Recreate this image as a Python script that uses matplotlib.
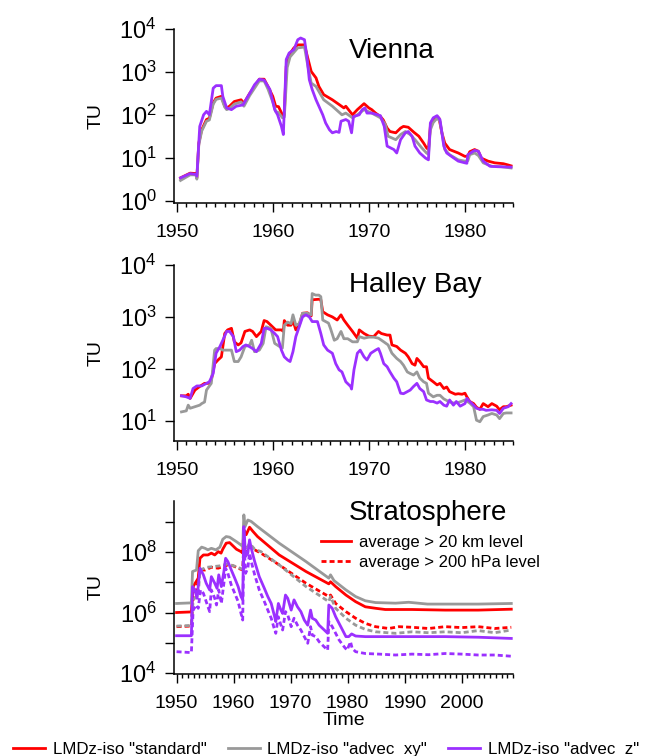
import matplotlib
matplotlib.use("Agg")
import matplotlib.pyplot as plt
from matplotlib.lines import Line2D
from matplotlib.ticker import FixedLocator, MultipleLocator
import numpy as np

plt.rcParams['font.family'] = ['Liberation Sans', 'DejaVu Sans']
plt.rcParams['mathtext.fontset'] = 'custom'
plt.rcParams['mathtext.rm'] = 'Liberation Sans'
plt.rcParams['mathtext.it'] = 'Liberation Sans:italic'

# (year, log10 TU)
vienna_std = [(1950.4,0.53),(1951.4,0.64),(1952.0,0.63),(1952.1,0.53),(1952.3,1.34),(1952.6,1.65),(1953.1,1.89),(1953.4,1.92),(1953.8,2.28),(1954.1,2.39),(1954.65,2.43),(1955.0,2.2),(1955.2,2.16),(1955.5,2.2),(1956.0,2.31),(1956.7,2.35),(1957.0,2.27),(1957.6,2.5),(1958.1,2.66),(1958.6,2.83),(1959.1,2.83),(1959.5,2.66),(1960.0,2.43),(1960.3,2.2),(1960.6,2.19),(1961.0,2.0),(1961.2,2.0),(1961.4,3.13),(1961.7,3.4),(1962.2,3.56),(1962.6,3.63),(1963.3,3.63),(1963.6,3.36),(1964.0,3.01),(1964.5,2.86),(1964.8,2.66),(1965.3,2.47),(1966.2,2.35),(1966.9,2.24),(1967.4,2.16),(1967.6,2.2),(1968.3,2.0),(1968.8,2.12),(1969.5,2.26),(1970.0,2.16),(1970.3,2.12),(1970.7,2.04),(1971.2,1.96),(1971.5,1.88),(1971.9,1.69),(1972.2,1.61),(1972.8,1.58),(1973.3,1.69),(1973.6,1.73),(1974.1,1.71),(1974.7,1.59),(1975.2,1.5),(1975.7,1.34),(1976.0,1.23),(1976.2,1.19),(1976.4,1.73),(1976.7,1.89),(1977.1,1.96),(1977.3,1.92),(1977.6,1.58),(1977.9,1.34),(1978.4,1.19),(1979.3,1.11),(1980.0,1.03),(1980.3,1.04),(1980.5,1.14),(1981.0,1.19),(1981.4,1.15),(1981.7,0.99),(1982.4,0.92),(1983.1,0.88),(1984.0,0.86),(1984.5,0.83),(1984.8,0.81)]
vienna_xy = [(1950.4,0.47),(1951.4,0.6),(1952.0,0.6),(1952.1,0.5),(1952.3,1.3),(1952.6,1.62),(1953.1,1.85),(1953.4,1.88),(1953.8,2.25),(1954.1,2.36),(1954.65,2.39),(1955.0,2.18),(1955.2,2.12),(1955.5,2.15),(1956.0,2.25),(1956.7,2.3),(1957.0,2.2),(1957.6,2.45),(1958.1,2.62),(1958.6,2.79),(1959.1,2.79),(1959.5,2.6),(1960.0,2.3),(1960.3,2.08),(1960.6,2.05),(1961.0,1.93),(1961.2,1.95),(1961.5,3.1),(1961.8,3.35),(1962.6,3.56),(1963.3,3.58),(1963.6,3.2),(1964.0,2.74),(1964.5,2.66),(1965.3,2.35),(1966.2,2.2),(1967.2,2.0),(1967.6,2.04),(1968.3,1.93),(1968.8,2.0),(1969.5,2.12),(1970.3,2.04),(1971.2,1.93),(1971.7,1.78),(1972.0,1.5),(1972.8,1.42),(1973.3,1.54),(1973.8,1.61),(1974.3,1.54),(1974.8,1.42),(1975.5,1.23),(1976.0,1.11),(1976.2,1.08),(1976.4,1.65),(1976.7,1.82),(1977.1,1.92),(1977.4,1.85),(1977.9,1.19),(1978.4,1.07),(1979.3,0.95),(1980.0,0.92),(1980.3,0.93),(1980.5,1.07),(1981.0,1.11),(1981.4,1.05),(1981.9,0.88),(1982.8,0.8),(1983.8,0.79),(1984.8,0.76)]
vienna_z = [(1950.4,0.53),(1951.4,0.63),(1952.0,0.61),(1952.1,0.57),(1952.4,1.73),(1952.8,2.0),(1953.1,2.08),(1953.4,2.0),(1953.8,2.62),(1954.1,2.68),(1954.65,2.68),(1954.8,2.43),(1955.2,2.16),(1955.7,2.12),(1956.2,2.2),(1956.9,2.23),(1957.2,2.35),(1957.6,2.5),(1958.1,2.7),(1958.6,2.83),(1959.1,2.81),(1959.7,2.59),(1960.2,2.12),(1960.5,2.0),(1960.9,1.73),(1961.1,1.54),(1961.4,3.29),(1961.7,3.44),(1962.2,3.52),(1962.6,3.75),(1962.9,3.79),(1963.3,3.75),(1963.55,3.36),(1963.8,2.82),(1964.1,2.59),(1964.5,2.35),(1964.8,2.2),(1965.2,2.0),(1965.5,1.81),(1965.9,1.65),(1966.2,1.58),(1966.6,1.61),(1966.9,1.59),(1967.1,1.85),(1967.6,1.89),(1967.9,1.85),(1968.2,1.58),(1968.4,1.96),(1969.0,2.0),(1969.3,2.12),(1969.6,2.16),(1969.8,2.04),(1970.3,2.04),(1970.9,2.0),(1971.2,1.98),(1971.6,1.73),(1971.9,1.27),(1972.6,1.19),(1972.9,1.11),(1973.3,1.42),(1973.8,1.58),(1974.1,1.61),(1974.5,1.5),(1974.8,1.27),(1975.3,1.11),(1975.9,0.99),(1976.2,0.95),(1976.4,1.81),(1976.7,1.93),(1977.1,1.98),(1977.4,1.89),(1977.8,1.27),(1978.1,1.11),(1978.6,1.03),(1979.3,0.92),(1980.0,0.88),(1980.2,0.87),(1980.3,1.07),(1981.0,1.17),(1981.4,1.15),(1981.9,0.92),(1982.6,0.8),(1983.4,0.79),(1984.8,0.78)]

halley_std = [(1950.5,1.48),(1951.0,1.48),(1951.2,1.51),(1951.4,1.43),(1951.9,1.59),(1952.4,1.66),(1952.9,1.72),(1953.3,1.72),(1953.6,1.78),(1953.95,2.1),(1954.3,2.17),(1954.65,2.23),(1955.0,2.68),(1955.3,2.75),(1955.7,2.78),(1956.0,2.52),(1956.4,2.46),(1956.7,2.5),(1957.1,2.72),(1957.6,2.75),(1957.9,2.72),(1958.3,2.62),(1958.8,2.72),(1959.1,2.93),(1959.4,2.91),(1959.8,2.84),(1960.3,2.75),(1960.9,2.75),(1961.1,2.72),(1961.2,2.93),(1961.55,2.84),(1961.9,2.84),(1962.1,2.93),(1962.4,2.75),(1962.75,2.84),(1963.1,3.07),(1963.6,3.08),(1964.0,3.02),(1964.1,3.33),(1964.8,3.34),(1965.0,3.33),(1965.2,3.1),(1965.7,3.04),(1966.2,3.0),(1966.7,2.94),(1967.1,3.04),(1967.4,2.94),(1967.8,2.84),(1968.3,2.72),(1968.8,2.59),(1969.0,2.75),(1969.5,2.68),(1970.0,2.63),(1970.5,2.62),(1971.0,2.72),(1971.3,2.68),(1971.9,2.65),(1972.2,2.65),(1972.4,2.46),(1972.9,2.43),(1973.3,2.36),(1973.8,2.3),(1974.1,2.23),(1974.5,2.1),(1974.8,2.07),(1975.0,2.2),(1975.3,2.14),(1975.7,2.04),(1976.0,2.04),(1976.2,1.82),(1976.7,1.75),(1977.1,1.69),(1977.4,1.72),(1977.8,1.62),(1978.1,1.65),(1978.4,1.56),(1979.0,1.51),(1979.3,1.52),(1979.7,1.51),(1980.0,1.53),(1980.2,1.46),(1980.5,1.37),(1980.9,1.33),(1981.2,1.26),(1981.55,1.22),(1981.9,1.33),(1982.4,1.27),(1982.8,1.33),(1983.3,1.28),(1983.6,1.21),(1984.0,1.27),(1984.3,1.27),(1984.8,1.3)]
halley_xy = [(1950.5,1.17),(1951.0,1.19),(1951.2,1.3),(1951.4,1.24),(1951.9,1.27),(1952.4,1.3),(1952.6,1.33),(1952.9,1.36),(1953.1,1.59),(1953.6,1.72),(1953.95,2.36),(1954.1,2.39),(1954.5,2.39),(1954.8,2.36),(1955.2,2.36),(1955.7,2.36),(1956.0,2.14),(1956.4,2.14),(1956.7,2.23),(1957.1,2.43),(1957.6,2.46),(1957.8,2.55),(1958.1,2.33),(1958.6,2.36),(1959.0,2.49),(1959.3,2.81),(1959.8,2.78),(1960.2,2.49),(1960.7,2.43),(1961.0,2.4),(1961.2,2.84),(1961.55,2.9),(1961.9,2.87),(1962.1,3.04),(1962.4,2.84),(1962.75,2.87),(1963.1,3.07),(1963.6,3.07),(1964.0,3.04),(1964.1,3.45),(1964.45,3.42),(1964.8,3.42),(1965.0,3.39),(1965.2,2.94),(1965.5,2.91),(1965.8,2.88),(1966.0,2.78),(1966.4,2.55),(1966.7,2.58),(1967.1,2.72),(1967.4,2.58),(1967.8,2.58),(1968.3,2.52),(1968.8,2.52),(1969.0,2.62),(1969.5,2.59),(1970.0,2.61),(1970.5,2.61),(1971.0,2.59),(1971.55,2.52),(1972.0,2.46),(1972.4,2.3),(1972.9,2.2),(1973.3,2.14),(1973.6,2.07),(1974.0,1.94),(1974.3,1.91),(1974.65,1.88),(1975.0,1.94),(1975.3,1.82),(1975.7,1.75),(1976.0,1.72),(1976.2,1.53),(1976.7,1.46),(1977.1,1.49),(1977.4,1.49),(1977.8,1.42),(1978.3,1.37),(1978.8,1.34),(1979.3,1.35),(1979.6,1.37),(1980.0,1.4),(1980.5,1.34),(1980.9,1.27),(1981.2,1.01),(1981.55,0.98),(1981.9,1.08),(1982.4,1.11),(1982.8,1.14),(1983.3,1.11),(1983.6,1.04),(1984.0,1.14),(1984.3,1.15),(1984.8,1.15)]
halley_z = [(1950.5,1.48),(1951.0,1.46),(1951.4,1.43),(1951.7,1.62),(1952.1,1.67),(1952.6,1.67),(1953.1,1.72),(1953.4,1.75),(1953.8,1.91),(1954.1,2.3),(1954.5,2.43),(1954.8,2.55),(1955.2,2.72),(1955.5,2.72),(1955.9,2.62),(1956.2,2.33),(1956.55,2.36),(1956.9,2.43),(1957.2,2.46),(1957.55,2.43),(1957.9,2.39),(1958.3,2.33),(1958.8,2.49),(1959.1,2.78),(1959.4,2.78),(1959.8,2.75),(1960.2,2.68),(1960.5,2.62),(1960.9,2.36),(1961.2,2.23),(1961.55,2.17),(1961.8,2.14),(1962.1,2.33),(1962.4,2.62),(1962.75,2.81),(1963.1,3.0),(1963.45,3.04),(1963.8,3.0),(1964.1,2.91),(1964.65,2.91),(1965.0,2.68),(1965.3,2.46),(1965.7,2.36),(1966.2,2.3),(1966.55,2.1),(1966.9,1.98),(1967.2,1.94),(1967.6,1.75),(1968.1,1.66),(1968.2,1.61),(1968.45,1.98),(1968.8,2.3),(1969.1,2.36),(1969.5,2.23),(1969.8,2.17),(1970.2,2.3),(1970.7,2.36),(1971.0,2.39),(1971.2,2.3),(1971.55,2.1),(1971.9,2.04),(1972.2,1.94),(1972.6,1.82),(1972.9,1.75),(1973.3,1.53),(1973.6,1.52),(1974.0,1.56),(1974.3,1.59),(1974.65,1.66),(1975.0,1.72),(1975.3,1.62),(1975.7,1.56),(1976.0,1.4),(1976.4,1.37),(1976.7,1.37),(1977.1,1.34),(1977.4,1.37),(1977.8,1.3),(1978.1,1.28),(1978.4,1.4),(1978.8,1.3),(1979.1,1.37),(1979.5,1.28),(1980.0,1.33),(1980.2,1.43),(1980.5,1.37),(1980.9,1.3),(1981.2,1.24),(1981.55,1.22),(1981.9,1.22),(1982.2,1.2),(1982.8,1.21),(1983.3,1.2),(1983.6,1.14),(1984.0,1.24),(1984.5,1.27),(1984.8,1.33)]

# stratosphere: "20km" = average above 20 km, "200hPa" = average above 200 hPa
strat_std_20km = [(1950.0,6.0),(1952.6,6.02),(1952.9,6.86),(1953.8,7.14),(1954.1,7.8),(1954.7,7.91),(1955.5,7.91),(1956.1,7.97),(1956.7,7.91),(1957.3,8.02),(1957.8,7.97),(1958.1,8.1),(1958.7,8.3),(1959.3,8.32),(1959.9,8.21),(1960.5,8.1),(1961.3,8.02),(1961.6,7.97),(1961.8,8.74),(1962.2,8.58),(1962.8,8.83),(1963.4,8.69),(1964.2,8.52),(1968.0,7.91),(1972.7,7.36),(1976.7,6.95),(1977.0,7.02),(1977.9,6.86),(1979.7,6.58),(1981.4,6.36),(1983.1,6.19),(1984.9,6.14),(1986.6,6.1),(1991.3,6.1),(1997.1,6.08),(2002.9,6.08),(2008.7,6.11)]
strat_xy_20km = [(1950.0,6.3),(1952.6,6.32),(1952.8,7.36),(1953.5,7.41),(1953.8,8.05),(1954.4,8.17),(1955.0,8.13),(1955.5,8.08),(1956.1,8.13),(1956.9,8.08),(1957.6,8.17),(1958.1,8.43),(1958.7,8.52),(1959.3,8.5),(1960.5,8.35),(1961.3,8.24),(1961.6,8.19),(1961.8,9.24),(1962.0,8.85),(1962.5,9.07),(1963.1,9.02),(1964.2,8.85),(1968.0,8.3),(1972.7,7.69),(1976.7,7.14),(1977.0,7.25),(1977.6,7.06),(1979.7,6.75),(1981.4,6.53),(1983.1,6.39),(1984.9,6.33),(1988.4,6.31),(1990.7,6.34),(1994.0,6.28),(2002.9,6.28),(2008.7,6.3)]
strat_z_20km = [(1950.0,5.23),(1952.6,5.23),(1952.8,6.86),(1953.2,6.75),(1953.6,6.47),(1954.1,7.47),(1954.7,7.25),(1955.2,6.97),(1955.8,6.75),(1956.1,7.19),(1956.7,6.97),(1957.1,6.8),(1957.4,7.25),(1957.85,6.86),(1958.3,7.36),(1958.6,7.8),(1959.0,7.69),(1959.6,7.41),(1960.2,7.14),(1960.8,6.86),(1961.3,6.53),(1961.6,6.42),(1961.8,8.85),(1962.1,7.86),(1962.5,7.97),(1962.8,8.41),(1963.1,8.13),(1963.7,7.69),(1964.5,7.19),(1965.4,6.8),(1966.0,6.53),(1966.6,6.3),(1967.2,5.86),(1967.4,5.7),(1967.85,6.3),(1968.3,6.08),(1968.6,5.97),(1969.1,6.58),(1969.5,6.47),(1970.1,6.08),(1970.6,6.42),(1971.2,6.19),(1971.8,6.03),(1972.4,5.75),(1973.0,5.58),(1973.5,6.08),(1973.8,5.81),(1974.4,5.75),(1975.0,5.58),(1975.9,5.42),(1976.5,5.31),(1976.7,6.25),(1977.3,6.14),(1977.9,5.86),(1978.5,5.64),(1979.1,5.42),(1979.7,5.2),(1980.2,5.2),(1980.7,5.29),(1981.4,5.22),(1983.1,5.2),(1988.4,5.2),(1997.1,5.2),(2002.9,5.18),(2008.7,5.14)]
strat_std_200hpa = [(1950.0,5.53),(1952.6,5.55),(1952.9,6.53),(1953.5,6.75),(1954.1,7.41),(1955.0,7.41),(1956.1,7.5),(1957.3,7.47),(1958.1,7.52),(1959.0,7.58),(1959.9,7.55),(1960.8,7.47),(1961.6,7.41),(1961.8,8.19),(1962.2,7.97),(1962.8,8.19),(1963.7,8.08),(1964.8,7.97),(1968.0,7.58),(1972.7,6.97),(1976.7,6.53),(1977.0,6.58),(1977.9,6.3),(1979.7,6.03),(1981.4,5.81),(1983.1,5.64),(1984.9,5.53),(1987.2,5.47),(1989.0,5.53),(1991.3,5.51),(1994.2,5.47),(1997.1,5.53),(2000.0,5.5),(2002.9,5.53),(2005.8,5.47),(2008.7,5.51)]
strat_xy_200hpa = [(1950.0,5.55),(1952.6,5.57),(1952.9,6.42),(1953.8,6.58),(1954.1,7.41),(1955.3,7.5),(1957.7,7.55),(1959.0,7.61),(1960.5,7.52),(1961.6,7.43),(1961.8,8.3),(1962.2,8.08),(1962.8,8.3),(1963.7,8.1),(1964.8,8.02),(1968.0,7.58),(1972.7,6.86),(1976.7,6.36),(1977.0,6.53),(1977.9,6.14),(1979.7,5.81),(1981.4,5.58),(1983.1,5.44),(1984.9,5.36),(1988.4,5.31),(1991.3,5.36),(1994.2,5.33),(1997.1,5.36),(2000.0,5.33),(2002.9,5.4),(2005.8,5.33),(2008.7,5.42)]
strat_z_200hpa = [(1950.0,4.7),(1952.6,4.67),(1952.9,6.08),(1953.5,6.25),(1953.8,6.14),(1954.2,6.75),(1954.7,6.64),(1955.2,6.36),(1955.8,6.03),(1956.1,6.75),(1956.7,6.47),(1957.0,6.25),(1957.4,6.75),(1957.85,6.3),(1958.3,6.97),(1958.6,7.47),(1959.0,7.3),(1959.6,6.91),(1960.2,6.64),(1960.8,6.36),(1961.3,5.97),(1961.6,5.75),(1961.8,8.41),(1962.1,7.3),(1962.5,7.47),(1962.8,7.97),(1963.1,7.69),(1963.7,7.25),(1964.5,6.75),(1965.4,6.36),(1966.0,6.08),(1966.6,5.81),(1967.2,5.42),(1967.4,5.31),(1967.85,5.86),(1968.3,5.58),(1968.6,5.42),(1969.1,6.03),(1969.5,5.92),(1970.1,5.53),(1970.6,5.81),(1971.2,5.58),(1971.8,5.42),(1972.4,5.2),(1973.0,4.98),(1973.5,5.53),(1973.8,5.25),(1974.4,5.2),(1975.0,5.03),(1975.9,4.86),(1976.5,4.75),(1976.7,5.7),(1977.3,5.53),(1977.9,5.31),(1978.5,5.09),(1979.4,4.86),(1979.9,4.75),(1980.5,5.03),(1980.8,4.81),(1981.4,4.7),(1983.1,4.64),(1985.5,4.62),(1988.4,4.59),(1991.3,4.62),(1994.2,4.6),(1997.1,4.64),(2000.0,4.62),(2002.9,4.59),(2005.8,4.59),(2008.7,4.55)]

legend_labels = ['LMDz-iso "standard"', 'LMDz-iso "advec_xy"', 'LMDz-iso "advec_z"']
colors = ['#ff0000', '#999999', '#9b30ff']
dash = (0, (1.8, 1.1))

W, H = 645, 756
fig = plt.figure(figsize=(W / 100, H / 100), dpi=100)

def px_axes(left, top, right, bottom):
    return fig.add_axes([left / W, 1 - bottom / H, (right - left) / W, (bottom - top) / H])

def curve(ax, data, color, ls='-'):
    d = np.array(data)
    ax.plot(d[:, 0], 10 ** d[:, 1], color=color, lw=2, ls=ls, solid_joinstyle='round')

def style(ax, xmax, ylog, ylabels):
    for s in ['top', 'right']:
        ax.spines[s].set_visible(False)
    for s in ['left', 'bottom']:
        ax.spines[s].set_linewidth(1.1)
    ax.set_yscale('log')
    ax.yaxis.set_major_locator(FixedLocator([10.0 ** k for k in ylog]))
    ax.yaxis.set_minor_locator(FixedLocator([]))
    ax.set_yticklabels([(r'$10^{%d}$' % k if k in ylabels else '') for k in ylog], fontsize=17)
    ax.xaxis.set_major_locator(MultipleLocator(10))
    ax.xaxis.set_minor_locator(MultipleLocator(1))
    ax.set_xticks(np.arange(1950, xmax + 1, 10))
    ax.tick_params(axis='x', which='major', length=6.5, width=1, labelsize=14, pad=8.5)
    ax.tick_params(axis='x', which='minor', length=3, width=1)
    ax.tick_params(axis='y', which='major', length=6.5, width=1, pad=6)
    ax.set_ylabel('TU', fontsize=14)
    ax.yaxis.set_label_coords(-0.205, 0.5)

# Vienna
ax1 = px_axes(174, 29, 513, 203)
for data, c in zip([vienna_std, vienna_xy, vienna_z], colors):
    curve(ax1, data, c)
ax1.set_xlim(1949.72, 1985)
ax1.set_ylim(10 ** -0.056, 1e4)
style(ax1, 1985, range(0, 5), range(0, 5))
fig.text(349 / W, 1 - 57.5 / H, 'Vienna', fontsize=20, va='baseline', ha='left')

# Halley Bay
ax2 = px_axes(174, 265, 513, 440.7)
for data, c in zip([halley_std, halley_xy, halley_z], colors):
    curve(ax2, data, c)
ax2.set_xlim(1949.72, 1985)
ax2.set_ylim(10 ** 0.615, 1e4)
style(ax2, 1985, range(1, 5), range(1, 5))
fig.text(349 / W, 1 - 291.7 / H, 'Halley Bay', fontsize=20, va='baseline', ha='left')

# Stratosphere
ax3 = px_axes(174, 501, 513, 674)
for d20, d200, c in zip([strat_std_20km, strat_xy_20km, strat_z_20km],
                        [strat_std_200hpa, strat_xy_200hpa, strat_z_200hpa], colors):
    curve(ax3, d20, c)
    curve(ax3, d200, c, dash)
ax3.set_xlim(1949.55, 2009)
ax3.set_ylim(10 ** 3.96, 10 ** 9.7)
style(ax3, 2009, range(4, 10), [4, 6, 8])
ax3.set_xlabel('Time', fontsize=14, labelpad=0)
fig.text(349 / W, 1 - 520 / H, 'Stratosphere', fontsize=20, va='baseline', ha='left')

lvl = [Line2D([], [], color=colors[0], lw=2), Line2D([], [], color=colors[0], lw=2, ls=dash)]
ax3.legend(lvl, ['average > 20 km level', 'average > 200 hPa level'], loc='upper left',
           bbox_to_anchor=(320.7 / W, 1 - 534.5 / H), bbox_transform=fig.transFigure,
           frameon=False, fontsize=12, borderpad=0, borderaxespad=0,
           handlelength=1.8, handletextpad=0.52, labelspacing=0.35)

hs = [Line2D([], [], color=c, lw=2) for c in colors]
fig.legend(hs, legend_labels, loc='center', ncol=3, bbox_to_anchor=(326 / W, 1 - 749.5 / H),
           frameon=False, fontsize=12.2, handlelength=1.9, handletextpad=0.45,
           columnspacing=1.25, borderpad=0, borderaxespad=0)

fig.savefig('out.png', dpi=100)
